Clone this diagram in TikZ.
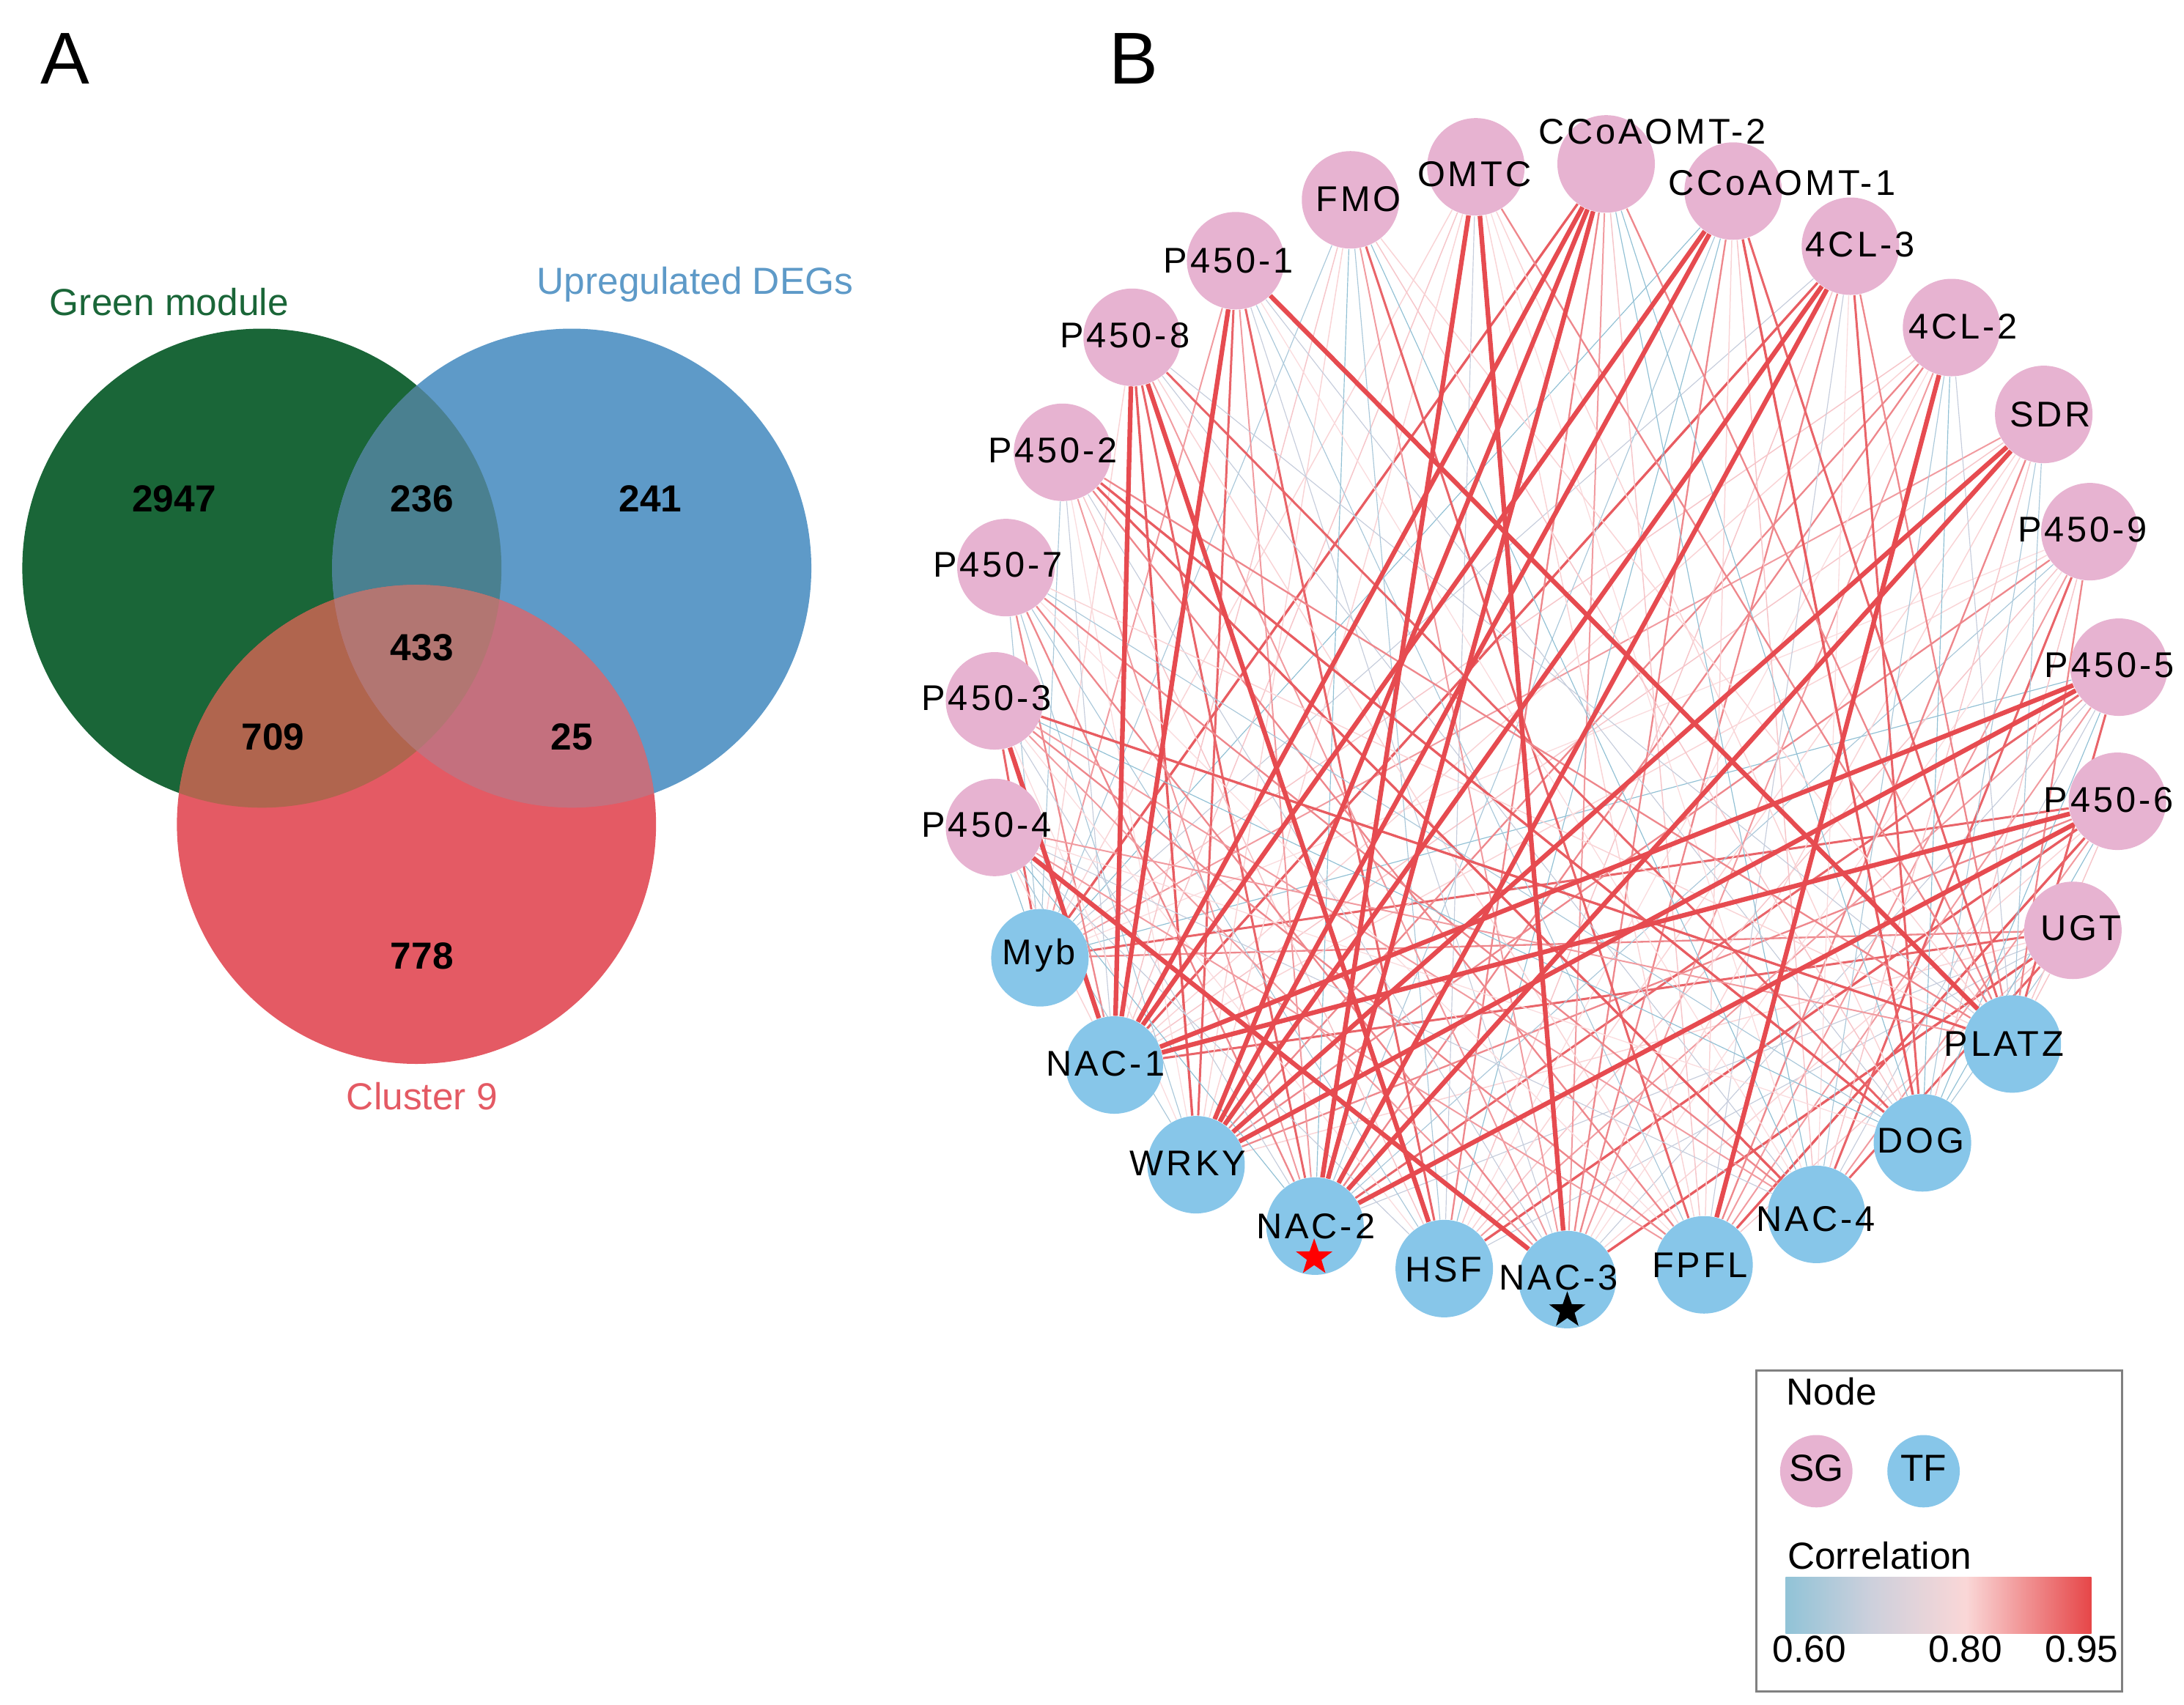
\documentclass[tikz,border=0pt]{standalone}
\usepackage{fontspec}
\setmainfont{Liberation Sans}
\newfontfamily\netfont[LetterSpace=8]{Liberation Sans}
\usetikzlibrary{shapes.geometric}

\definecolor{vgreen}{RGB}{26,102,56}
\definecolor{vblue}{RGB}{94,154,200}
\definecolor{vred}{RGB}{228,90,100}
\definecolor{vgb}{RGB}{74,128,144}
\definecolor{vgr}{RGB}{176,101,78}
\definecolor{vbr}{RGB}{196,112,126}
\definecolor{vgbr}{RGB}{178,118,114}
\definecolor{sgpink}{RGB}{231,179,209}
\definecolor{tfblue}{RGB}{135,198,233}
\definecolor{boxgray}{RGB}{128,128,128}
\definecolor{cbblue}{RGB}{145,195,215}
\definecolor{cbgray}{RGB}{205,208,220}
\definecolor{cbpale}{RGB}{250,215,215}
\definecolor{cbred}{RGB}{230,70,72}
\definecolor{strongred}{RGB}{230,75,80}
% edge classes, light blue -> red
\definecolor{ec1}{RGB}{145,192,212}
\definecolor{ec2}{RGB}{170,200,218}
\definecolor{ec3}{RGB}{198,205,220}
\definecolor{ec4}{RGB}{249,212,214}
\definecolor{ec5}{RGB}{246,198,202}
\definecolor{ec6}{RGB}{250,220,222}
\definecolor{ec7}{RGB}{241,155,160}
\definecolor{ec8}{RGB}{238,135,140}
\definecolor{ec9}{RGB}{233,100,105}
\definecolor{ec10}{RGB}{232,92,97}

\pgfdeclarehorizontalshading{corrbar}{100bp}{color(0bp)=(cbblue); color(25bp)=(cbblue); color(39bp)=(cbgray); color(54.5bp)=(cbpale); color(75bp)=(cbred); color(100bp)=(cbred)}

\pgfdeclarelayer{edges}
\pgfsetlayers{edges,main}

\begin{document}
\begin{tikzpicture}[x=0.02cm,y=-0.02cm,
  sg/.style={circle,fill=sgpink,minimum size=1.4cm,inner sep=0pt},
  tf/.style={circle,fill=tfblue,minimum size=1.4cm,inner sep=0pt},
  netlabel/.style={anchor=base,inner sep=0pt,font=\netfont\fontsize{14.6}{16}\selectfont},
  vnum/.style={anchor=base,inner sep=0pt,font=\fontsize{15.4}{18}\selectfont\bfseries},
  vlabel/.style={anchor=base,inner sep=0pt,font=\fontsize{15.4}{18}\selectfont},
  panel/.style={anchor=base,inner sep=0pt,font=\fontsize{30}{34}\selectfont},
  strong/.style={draw=strongred,line width=1.9pt},
  legdot/.style={circle,minimum size=1.04cm,inner sep=0pt,font=\fontsize{15}{18}\selectfont}
]
\useasboundingbox (0,0) rectangle (1568,1224);

% panel letters
\node[panel] (A) at (47,60) {A};
\node[panel] (B) at (814,60) {B};

% Venn diagram
\fill[vgreen] (188,408) circle (172);
\fill[vblue] (410.5,408) circle (172);
\fill[vred] (299,592) circle (172);
\begin{scope}
  \clip (188,408) circle (172);
  \fill[vgb] (410.5,408) circle (172);
  \fill[vgr] (299,592) circle (172);
\end{scope}
\begin{scope}
  \clip (410.5,408) circle (172);
  \fill[vbr] (299,592) circle (172);
\end{scope}
\begin{scope}
  \clip (188,408) circle (172);
  \clip (410.5,408) circle (172);
  \fill[vgbr] (299,592) circle (172);
\end{scope}

\node[vlabel,text=vgreen] (green) at (121.5,226.5) {Green module};
\node[vlabel,text=vblue] (upreg) at (499,211) {Upregulated DEGs};
\node[vlabel,text=vred] (clus) at (303,797) {Cluster 9};

\node[vnum] (n2947) at (125,367.7) {2947};
\node[vnum] (n236) at (303,367.7) {236};
\node[vnum] (n241) at (467,367.7) {241};
\node[vnum] (n433) at (303,474.2) {433};
\node[vnum] (n709) at (196,538.7) {709};
\node[vnum] (n25) at (410.5,538.7) {25};
\node[vnum] (n778) at (303,695.7) {778};

% network nodes
\foreach \n/\x/\y in {fmo/969.6/143.5, omtc/1059.6/119.8, ccoa2/1153.1/117.7,
  ccoa1/1244.3/137.2, cl3/1328.5/176.8, p1/887.1/187.2, p8/812.8/242.2,
  cl2/1401.1/235.2, sdr/1467.3/297.6, p2/762.8/324.8, p9/1500.4/381.8,
  p7/722.2/407.6, p5/1521.3/479.1, p3/714/503.3, p4/714/594.2,
  p6/1520.2/575.4, ugt/1488.2/668.1}
  \node[sg] (\n) at (\x,\y) {};
\foreach \n/\x/\y in {myb/746.6/687.8, nac1/800/764.8, platz/1444.7/749.7,
  wrky/858.7/836.4, dog/1380.2/820.7, nac4/1304.1/872.1, nac2/944.1/880.5,
  fpfl/1223.4/908.3, hsf/1036.9/911, nac3/1125.2/918.9}
  \node[tf] (\n) at (\x,\y) {};

% correlations
\begin{pgfonlayer}{edges}
\pgfmathsetseed{11}
\foreach \t in {myb,nac1,wrky,nac2,hsf,nac3,fpfl,nac4,dog,platz}{
  \foreach \s in {fmo,omtc,ccoa2,ccoa1,cl3,p1,p8,cl2,sdr,p2,p9,p7,p5,p3,p4,p6,ugt}{
    \pgfmathrandominteger{\k}{1}{10}
    \pgfmathsetmacro{\lw}{{0.35,0.35,0.35,0.45,0.45,0.4,0.6,0.7,0.9,1.0}[\k-1]}
    \draw[draw=ec\k,line width=\lw pt] (\t) -- (\s);
  }
}
\foreach \s/\t in {p1/platz, omtc/nac3, ccoa2/nac1, ccoa2/wrky, ccoa2/nac2,
  ccoa1/nac1, ccoa1/wrky, cl3/wrky, cl3/nac2, sdr/nac2, sdr/wrky,
  p6/nac1, p6/nac2, p5/nac1, p5/wrky, p8/nac1, p8/hsf, p1/nac1,
  p4/nac3, p3/nac1, omtc/nac2, cl2/fpfl}
  \draw[strong] (\s) -- (\t);
\end{pgfonlayer}

% node labels
\foreach \n/\x/\y/\txt in {ccoa2/1186.2/103.4/CCoAOMT-2, omtc/1058.5/134.1/OMTC,
  fmo/975.4/151.8/FMO, ccoa1/1279.2/140.1/CCoAOMT-1, cl3/1335.5/184.4/4CL-3,
  p1/881.9/195.8/P450-1, p8/807.6/249.8/P450-8, cl2/1409.2/243.1/4CL-2,
  sdr/1472/306.5/SDR, p2/755.9/332.1/P450-2, p9/1495.2/389.1/P450-9,
  p7/716.4/414.3/P450-7, p5/1514.4/486.4/P450-5, p3/708.2/509.9/P450-3,
  p4/708.2/601.4/P450-4, p6/1513.8/583.3/P450-6, ugt/1494/675.3/UGT,
  myb/746/692.6/Myb, nac1/793.6/772.7/NAC-1, platz/1438.8/758.5/PLATZ,
  wrky/852.9/844/WRKY, dog/1379.1/828/DOG, nac4/1303.6/884.4/NAC-4,
  nac2/944.6/889.3/NAC-2, hsf/1036.4/920.7/HSF, nac3/1118.9/926.4/NAC-3,
  fpfl/1220.5/917.3/FPFL}
  \node[netlabel] (\n-l) at (\x,\y) {\txt};

\node[star,star points=5,star point ratio=2.5,fill=red,minimum size=0.55cm,inner sep=0pt] (star2) at (943.5,903) {};
\node[star,star points=5,star point ratio=2.5,fill=black,minimum size=0.55cm,inner sep=0pt] (star3) at (1125.2,941) {};

% legend
\draw[boxgray,line width=0.9pt] (1261,984) rectangle (1523.5,1214.5);
\node[vlabel] (legnode) at (1315,1009) {Node};
\node[legdot,fill=sgpink] (legsg) at (1304,1056.5) {};
\node[legdot,fill=tfblue] (legtf) at (1381,1056.5) {};
\node[vlabel] (legsgt) at (1304,1063.7) {SG};
\node[vlabel] (legtft) at (1381,1063.7) {TF};
\node[vlabel,anchor=base west] (legcor) at (1283,1127) {Correlation};
\shade[shading=corrbar] (1282,1132.5) rectangle (1501.5,1173);
\node[vlabel] (t60) at (1299,1193.6) {0.60};
\node[vlabel] (t80) at (1411,1193.6) {0.80};
\node[vlabel] (t95) at (1494.5,1193.6) {0.95};
\end{tikzpicture}
\end{document}
